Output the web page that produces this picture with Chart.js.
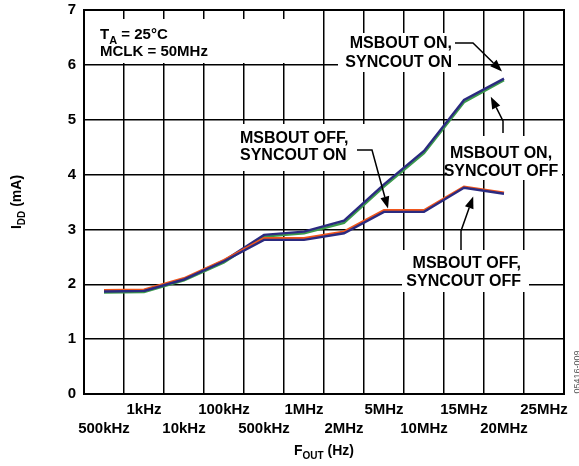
<!DOCTYPE html>
<html><head><meta charset="utf-8">
<script src="https://cdn.jsdelivr.net/npm/chart.js@4"></script>
<style>html,body{margin:0;padding:0;background:#fff}</style>
</head><body>
<canvas id="c" width="579" height="466"></canvas>
<script>
const categories = ['500kHz','1kHz','10kHz','100kHz','500kHz','1MHz','2MHz','5MHz','10MHz','15MHz','20MHz','25MHz'];
const msbOnSyncOn   = [1.87, 1.88, 2.09, 2.43, 2.90, 2.96, 3.16, 3.82, 4.43, 5.36, 5.75];
const msbOnSyncOff  = [1.85, 1.86, 2.07, 2.40, 2.87, 2.93, 3.12, 3.78, 4.39, 5.32, 5.72];
const msbOffSyncOn  = [1.89, 1.90, 2.11, 2.44, 2.84, 2.84, 2.96, 3.35, 3.35, 3.78, 3.67];
const msbOffSyncOff = [1.87, 1.88, 2.09, 2.42, 2.81, 2.81, 2.93, 3.32, 3.32, 3.76, 3.65];
const yMin = 0, yMax = 7, yStep = 1;

const FONT = "'Liberation Sans', Arial, Helvetica, sans-serif";
const NAVY = '#2b2a80', GREEN = '#3c9a4c', ORANGE = '#f0561c';

function drawParts(ctx, parts, x, y, align, size) {
  ctx.textBaseline = 'alphabetic';
  let w = 0;
  parts.forEach(p => { ctx.font = 'bold ' + (p.sub ? Math.round(size*0.72) : size) + 'px ' + FONT; w += ctx.measureText(p.t).width; });
  let cx = align === 'center' ? x - w/2 : (align === 'right' ? x - w : x);
  parts.forEach(p => {
    ctx.font = 'bold ' + (p.sub ? Math.round(size*0.72) : size) + 'px ' + FONT;
    ctx.textAlign = 'left';
    ctx.fillText(p.t, cx, y + (p.sub ? size*0.3 : 0));
    cx += ctx.measureText(p.t).width;
  });
}

function arrow(ctx, pts) {
  ctx.save();
  ctx.strokeStyle = '#000'; ctx.fillStyle = '#000'; ctx.lineWidth = 1.5;
  const n = pts.length;
  const [tx, ty] = pts[n-1], [px, py] = pts[n-2];
  const ang = Math.atan2(ty-py, tx-px);
  const L = 12, H = 4.5;
  const bx = tx - L*Math.cos(ang), by = ty - L*Math.sin(ang);
  ctx.beginPath();
  ctx.moveTo(pts[0][0], pts[0][1]);
  for (let i = 1; i < n-1; i++) ctx.lineTo(pts[i][0], pts[i][1]);
  ctx.lineTo(bx, by);
  ctx.stroke();
  ctx.beginPath();
  ctx.moveTo(tx, ty);
  ctx.lineTo(bx + H*Math.sin(ang), by - H*Math.cos(ang));
  ctx.lineTo(bx - H*Math.sin(ang), by + H*Math.cos(ang));
  ctx.closePath(); ctx.fill();
  ctx.restore();
}

const boxes = [[94,19,310,63],[338,33,458,72],[446,136,562,180],[234,124,370,171],[402,250,529,292]];
const notes = [
  {lines:['MSBOUT ON,','SYNCOUT ON'], x:452, y:[48,67], align:'right'},
  {lines:['MSBOUT ON,','SYNCOUT OFF'], x:501, y:[158,176], align:'center'},
  {lines:['MSBOUT OFF,','SYNCOUT ON'], x:240, y:[143,160], align:'left'},
  {lines:['MSBOUT OFF,','SYNCOUT OFF'], x:521, y:[268,286], align:'right'}
];

const annot = {
  id: 'annot',
  beforeDatasetsDraw(chart) {
    const ctx = chart.ctx;
    ctx.save(); ctx.fillStyle = '#fff';
    boxes.forEach(b => ctx.fillRect(b[0], b[1], b[2]-b[0], b[3]-b[1]));
    ctx.restore();
  },
  afterDatasetsDraw(chart) {
    const ctx = chart.ctx, a = chart.chartArea;
    const xs = chart.scales.x, ys = chart.scales.y;
    ctx.save();
    ctx.strokeStyle = '#000'; ctx.lineWidth = 2;
    ctx.strokeRect(a.left, a.top, a.right - a.left, a.bottom - a.top);
    ctx.fillStyle = '#000';
    drawParts(ctx, [{t:'T'},{t:'A',sub:true},{t:' = 25°C'}], 100, 39, 'left', 15);
    drawParts(ctx, [{t:'MCLK = 50MHz'}], 100, 56, 'left', 15);
    notes.forEach(n => n.lines.forEach((l, i) => drawParts(ctx, [{t:l}], n.x, n.y[i], n.align, 16)));
    const P = (i, v) => [xs.getPixelForValue(i), ys.getPixelForValue(v)];
    arrow(ctx, [[455,43],[473,43], P(9.95, 5.88)]);
    arrow(ctx, [[503,133],[503,121], P(9.67, 5.42)]);
    arrow(ctx, [[357,150],[372,150], P(7.1, 3.38)]);
    arrow(ctx, [[461,250],[461,231], P(9.23, 3.60)]);
    // axis titles
    drawParts(ctx, [{t:'F'},{t:'OUT',sub:true},{t:' (Hz)'}], (a.left + a.right)/2, 455, 'center', 14);
    ctx.save();
    ctx.translate(21, (a.top + a.bottom)/2);
    ctx.rotate(-Math.PI/2);
    drawParts(ctx, [{t:'I'},{t:'DD',sub:true},{t:' (mA)'}], 0, 0, 'center', 14);
    ctx.restore();
    ctx.save();
    ctx.translate(580, 372);
    ctx.rotate(-Math.PI/2);
    ctx.fillStyle = '#555';
    ctx.font = '9px ' + FONT; ctx.textAlign = 'center'; ctx.textBaseline = 'alphabetic';
    ctx.fillText('05416-009', 0, 0);
    ctx.restore();
    ctx.restore();
  }
};

const ds = (label, data, color) => ({label, data, borderColor: color, backgroundColor: color, borderWidth: 2.4, pointRadius: 0, tension: 0, fill: false});

new Chart(document.getElementById('c'), {
  type: 'line',
  data: {
    labels: categories,
    datasets: [
      ds('MSBOUT OFF, SYNCOUT OFF', msbOffSyncOff, NAVY),
      ds('MSBOUT OFF, SYNCOUT ON', msbOffSyncOn, ORANGE),
      ds('MSBOUT ON, SYNCOUT ON', msbOnSyncOn, NAVY),
      ds('MSBOUT ON, SYNCOUT OFF', msbOnSyncOff, GREEN)
    ]
  },
  options: {
    responsive: false, animation: false, devicePixelRatio: 1,
    layout: {padding: {top: 10, right: 15, left: 0, bottom: 0}},
    plugins: {legend: {display: false}, tooltip: {enabled: false}},
    scales: {
      x: {
        type: 'category', offset: true,
        grid: {offset: true, color: '#000', lineWidth: 1.5, drawTicks: false},
        border: {display: false},
        ticks: {autoSkip: false, maxRotation: 0, color: '#000', padding: 6,
          font: {family: FONT, size: 15, weight: 'bold', lineHeight: 1.3},
          callback: (v, i) => i % 2 === 0 ? ['', categories[i]] : [categories[i], '']},
        afterFit: s => { s.height = 72; s.paddingLeft = 0; s.paddingRight = 0; }
      },
      y: {
        min: yMin, max: yMax,
        grid: {color: '#000', lineWidth: 1.5, drawTicks: false},
        border: {display: false},
        ticks: {stepSize: yStep, color: '#000', padding: 8,
          font: {family: FONT, size: 15, weight: 'bold'}},
        afterFit: s => { s.width = 84; s.paddingTop = 0; s.paddingBottom = 0; }
      }
    }
  },
  plugins: [annot]
});
</script>
</body></html>
